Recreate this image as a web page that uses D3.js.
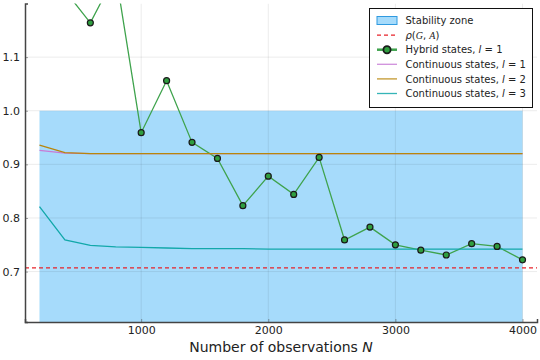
<!DOCTYPE html>
<meta charset="utf-8">
<script src="https://cdn.jsdelivr.net/npm/d3@7"></script>
<style>
  body { margin: 0; background: #fff; }
  text { font-family: "DejaVu Sans", sans-serif; fill: #222; }
</style>
<div id="chart"></div>
<script>
// data
const N = [200, 400, 600, 800, 1000, 1200, 1400, 1600, 1800, 2000, 2200, 2400, 2600, 2800, 3000, 3200, 3400, 3600, 3800, 4000];
const hybrid1 = [1.45, 1.224, 1.164, 1.255, 0.959, 1.056, 0.941, 0.911, 0.823, 0.878, 0.844, 0.913, 0.759, 0.783, 0.750, 0.740, 0.731, 0.752, 0.747, 0.722];
const cont1 = [0.926, 0.921, 0.920, 0.920, 0.920, 0.920, 0.920, 0.920, 0.920, 0.920, 0.920, 0.920, 0.920, 0.920, 0.920, 0.920, 0.920, 0.920, 0.920, 0.920];
const cont2 = [0.936, 0.922, 0.920, 0.920, 0.920, 0.920, 0.920, 0.920, 0.920, 0.920, 0.920, 0.920, 0.920, 0.920, 0.920, 0.920, 0.920, 0.920, 0.920, 0.920];
const cont3 = [0.821, 0.759, 0.749, 0.746, 0.745, 0.744, 0.743, 0.743, 0.743, 0.742, 0.742, 0.742, 0.742, 0.742, 0.742, 0.742, 0.742, 0.742, 0.742, 0.742];
const rho = 0.707;
const zone = {x0: 200, x1: 4000, y1: 1.0};
const xTicks = [1000, 2000, 3000, 4000];
const yTicks = [0.7, 0.8, 0.9, 1.0, 1.1];

const width = 540, height = 360;
const margin = {top: 3.5, right: 3, bottom: 38, left: 25};

const svg = d3.select("#chart").append("svg")
    .attr("width", width).attr("height", height);

const x = d3.scaleLinear().domain([86, 4114]).range([margin.left, width - margin.right]);
const y = d3.scaleLinear().domain([0.606, 1.2]).range([height - margin.bottom, margin.top]);

svg.append("clipPath").attr("id", "clip")
  .append("rect")
    .attr("x", margin.left).attr("y", margin.top)
    .attr("width", width - margin.left - margin.right)
    .attr("height", height - margin.top - margin.bottom);

const plot = svg.append("g").attr("clip-path", "url(#clip)");

// stability zone
plot.append("rect")
    .attr("x", x(zone.x0)).attr("y", y(zone.y1))
    .attr("width", x(zone.x1) - x(zone.x0))
    .attr("height", y(0.606) - y(zone.y1))
    .attr("fill", "#a6dbfb");

// grid
plot.selectAll(".gx").data(xTicks).join("line")
    .attr("x1", d => x(d)).attr("x2", d => x(d))
    .attr("y1", margin.top).attr("y2", height - margin.bottom)
    .attr("stroke", "rgba(0,0,0,0.08)");
plot.selectAll(".gy").data(yTicks).join("line")
    .attr("y1", d => y(d)).attr("y2", d => y(d))
    .attr("x1", margin.left).attr("x2", width - margin.right)
    .attr("stroke", "rgba(0,0,0,0.08)");

const line = vals => d3.line().x((d, i) => x(N[i])).y(d => y(d))(vals);

// rho line
plot.append("line")
    .attr("x1", margin.left).attr("x2", width - margin.right)
    .attr("y1", y(rho)).attr("y2", y(rho))
    .attr("stroke", "#e8232a").attr("stroke-width", 1.3)
    .attr("stroke-dasharray", "4,3");

plot.append("path").attr("d", line(hybrid1))
    .attr("fill", "none").attr("stroke", "#3fa34d").attr("stroke-width", 1.3);

const conts = [[cont1, "#c77bd6"], [cont2, "#b8860b"], [cont3, "#12a8aa"]];
conts.forEach(([v, c]) => {
  plot.append("path").attr("d", line(v))
      .attr("fill", "none").attr("stroke", c).attr("stroke-width", 1.3);
});

plot.selectAll(".pt").data(hybrid1).join("circle")
    .attr("cx", (d, i) => x(N[i])).attr("cy", d => y(d))
    .attr("r", 3)
    .attr("fill", "#2f9e3f").attr("stroke", "#1a1a1a").attr("stroke-width", 1.2);

// axes
const xAxis = svg.append("g")
    .attr("transform", `translate(0,${height - margin.bottom})`)
    .call(d3.axisBottom(x).tickValues(xTicks).tickSize(-3).tickPadding(4).tickFormat(d3.format("d")));
const yAxis = svg.append("g")
    .attr("transform", `translate(${margin.left},0)`)
    .call(d3.axisLeft(y).tickValues(yTicks).tickSize(-3).tickPadding(5).tickFormat(d3.format(".1f")));
[xAxis, yAxis].forEach(a => {
  a.select(".domain").attr("stroke", "#444").attr("stroke-width", 1.5);
  a.selectAll(".tick line").attr("stroke", "#444").attr("stroke-opacity", 0.5);
  a.selectAll(".tick text").attr("font-size", 11).attr("fill", "#222")
      .attr("font-family", "DejaVu Sans, sans-serif");
});

const xl = svg.append("text")
    .attr("x", (margin.left + width - margin.right) / 2).attr("y", 352)
    .attr("text-anchor", "middle").attr("font-size", 14);
xl.append("tspan").text("Number of observations ");
xl.append("tspan").attr("font-style", "italic").text("N");

// legend
const lg = svg.append("g");
lg.append("rect").attr("x", 369.5).attr("y", 8.5).attr("width", 163).attr("height", 99)
    .attr("fill", "#fff").attr("stroke", "#111").attr("stroke-width", 1);
const rowY = i => 20.5 + i * 14.6;
lg.append("rect").attr("x", 377).attr("y", rowY(0) - 4).attr("width", 20).attr("height", 8)
    .attr("fill", "#a6dbfb").attr("stroke", "#2f9ae0").attr("stroke-width", 1);
lg.append("line").attr("x1", 377).attr("x2", 397).attr("y1", rowY(1)).attr("y2", rowY(1))
    .attr("stroke", "#e8232a").attr("stroke-width", 1.2).attr("stroke-dasharray", "4,3");
lg.append("line").attr("x1", 377).attr("x2", 397).attr("y1", rowY(2)).attr("y2", rowY(2))
    .attr("stroke", "#3fa34d").attr("stroke-width", 2.5);
lg.append("circle").attr("cx", 387).attr("cy", rowY(2)).attr("r", 3.6)
    .attr("fill", "#2f9e3f").attr("stroke", "#1a1a1a").attr("stroke-width", 1.8);
conts.forEach(([v, c], i) => {
  lg.append("line").attr("x1", 377).attr("x2", 397).attr("y1", rowY(3 + i)).attr("y2", rowY(3 + i))
      .attr("stroke", c).attr("stroke-width", 1.3).attr("stroke-opacity", 0.85);
});
const labels = [
  [["Stability zone", ""]],
  [["ρ", "i"], ["(", ""], ["G", "s"], [", ", ""], ["A", "s"], [")", ""]],
  [["Hybrid states, ", ""], ["l", "i"], [" = 1", ""]],
  [["Continuous states, ", ""], ["l", "i"], [" = 1", ""]],
  [["Continuous states, ", ""], ["l", "i"], [" = 2", ""]],
  [["Continuous states, ", ""], ["l", "i"], [" = 3", ""]]
];
labels.forEach((parts, i) => {
  const t = lg.append("text").attr("x", 405.5).attr("y", rowY(i) + 3.6).attr("font-size", 10);
  parts.forEach(([s, st]) => {
    const ts = t.append("tspan").text(s);
    if (st === "i") ts.attr("font-style", "italic");
    if (st === "s") ts.attr("font-style", "italic").attr("font-family", "Liberation Serif, serif");
  });
});
</script>
</html>
